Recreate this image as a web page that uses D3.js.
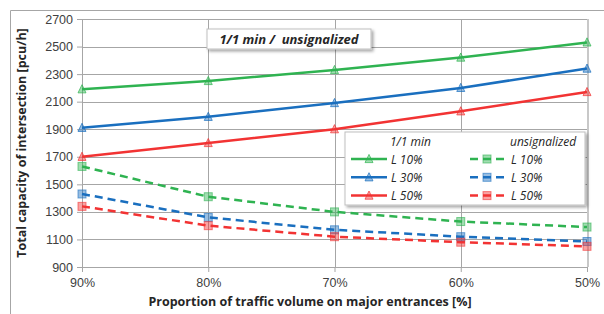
<!DOCTYPE html>
<html>
<head>
<meta charset="utf-8">
<script src="https://cdn.jsdelivr.net/npm/d3@7"></script>
<style>
  body { margin: 0; background: #fff; }
  svg { display: block; font-family: "Open Sans", "Noto Sans", sans-serif; }
</style>
</head>
<body>
<div id="chart"></div>
<script>
// categories and values
const categories = ["90%", "80%", "70%", "60%", "50%"];
const yTicks = [900, 1100, 1300, 1500, 1700, 1900, 2100, 2300, 2500, 2700];

const sig10 = [2190, 2250, 2330, 2420, 2530];
const sig30 = [1910, 1990, 2090, 2200, 2340];
const sig50 = [1700, 1800, 1900, 2030, 2170];
const uns10 = [1630, 1410, 1300, 1230, 1190];
const uns30 = [1430, 1260, 1170, 1120, 1085];
const uns50 = [1340, 1200, 1120, 1080, 1050];

const seriesLabels = ["L 10%", "L 30%", "L 50%"];
const seriesColors = ["#2fb351", "#1a6fbf", "#f23333"];

const series = [
  { values: sig10, color: seriesColors[0], dashed: false },
  { values: sig30, color: seriesColors[1], dashed: false },
  { values: sig50, color: seriesColors[2], dashed: false },
  { values: uns10, color: seriesColors[0], dashed: true },
  { values: uns30, color: seriesColors[1], dashed: true },
  { values: uns50, color: seriesColors[2], dashed: true }
];

const width = 604, height = 314;
const margin = { top: 19, right: 17, bottom: 47, left: 82 };
const innerWidth = width - margin.left - margin.right;
const innerHeight = height - margin.top - margin.bottom;

const svg = d3.select("#chart").append("svg")
  .attr("width", width)
  .attr("height", height);

const defs = svg.append("defs");
const shadow = defs.append("filter").attr("id", "shadow")
  .attr("x", "-10%").attr("y", "-20%").attr("width", "130%").attr("height", "160%");
shadow.append("feDropShadow")
  .attr("dx", 2).attr("dy", 2).attr("stdDeviation", 1.5)
  .attr("flood-color", "#000").attr("flood-opacity", 0.35);

// outer chart border (only the left and top edges are inside the picture)
svg.append("path")
  .attr("d", `M10.5,${height}V10.5H${width}`)
  .attr("fill", "none").attr("stroke", "#a6a6a6");

const g = svg.append("g").attr("transform", `translate(${margin.left},${margin.top})`);

const x = d3.scalePoint().domain(categories).range([0, innerWidth]);
const y = d3.scaleLinear().domain([900, 2700]).range([innerHeight, 0]);

// horizontal grid
g.append("g").selectAll("line").data(yTicks).join("line")
  .attr("x1", 0).attr("x2", innerWidth)
  .attr("y1", d => Math.round(y(d)) + 0.5).attr("y2", d => Math.round(y(d)) + 0.5)
  .attr("stroke", "#a6a6a6").attr("stroke-width", 1);

// vertical grid
g.append("g").selectAll("line").data(categories).join("line")
  .attr("x1", d => Math.round(x(d)) + 0.5).attr("x2", d => Math.round(x(d)) + 0.5)
  .attr("y1", 0).attr("y2", innerHeight)
  .attr("stroke", "#a6a6a6").attr("stroke-width", 1);

// right border of plot area
g.append("line")
  .attr("x1", innerWidth + 1).attr("x2", innerWidth + 1)
  .attr("y1", 0).attr("y2", innerHeight)
  .attr("stroke", "#c8c8c8").attr("stroke-width", 2);

// axes
const yAxis = g.append("g")
  .call(d3.axisLeft(y).tickValues(yTicks).tickSize(5).tickPadding(4).tickFormat(d3.format("d")));
yAxis.select(".domain").attr("stroke", "#a6a6a6").attr("d", `M0.5,0V${innerHeight}`);
yAxis.selectAll(".tick line").attr("stroke", "#a6a6a6");
yAxis.selectAll("text").attr("fill", "#404040").style("font-size", "12.5px");

const xAxis = g.append("g").attr("transform", `translate(0,${innerHeight})`)
  .call(d3.axisBottom(x).tickSize(5).tickPadding(6));
xAxis.select(".domain").attr("stroke", "#a6a6a6").attr("d", `M0,0.5H${innerWidth}`);
xAxis.selectAll(".tick line").attr("stroke", "#a6a6a6");
xAxis.selectAll("text").attr("fill", "#404040").style("font-size", "12.5px");

// axis titles
svg.append("text")
  .attr("transform", `translate(26,${margin.top + innerHeight / 2}) rotate(-90)`)
  .attr("text-anchor", "middle")
  .style("font-size", "12.5px").style("font-weight", "bold").attr("fill", "#262626")
  .text("Total capacity of intersection [pcu/h]");

svg.append("text")
  .attr("x", 310).attr("y", 306)
  .attr("text-anchor", "middle")
  .style("font-size", "12.5px").style("font-weight", "bold").attr("fill", "#262626")
  .text("Proportion of traffic volume on major entrances [%]");

// lines
const line = d3.line().x((d, i) => x(categories[i])).y(d => y(d));

function drawMarker(sel, dashed, color, size) {
  if (dashed) {
    sel.append("rect")
      .attr("x", -size / 2).attr("y", -size / 2)
      .attr("width", size).attr("height", size)
      .attr("fill", color).attr("fill-opacity", 0.45)
      .attr("stroke", color).attr("stroke-opacity", 0.6).attr("stroke-width", 1);
  } else {
    const h = size * 0.9;
    sel.append("path")
      .attr("d", `M0,${-h / 2 - 1}L${size / 2},${h / 2}L${-size / 2},${h / 2}Z`)
      .attr("fill", color).attr("fill-opacity", 0.45)
      .attr("stroke", color).attr("stroke-opacity", 0.7).attr("stroke-width", 1);
  }
}

series.forEach(s => {
  g.append("path")
    .datum(s.values)
    .attr("fill", "none")
    .attr("stroke", s.color)
    .attr("stroke-width", 2.5)
    .attr("stroke-dasharray", s.dashed ? "8,5" : null)
    .attr("d", line);
});

series.forEach(s => {
  s.values.forEach((v, i) => {
    const m = g.append("g").attr("transform", `translate(${x(categories[i])},${y(v)})`);
    drawMarker(m, s.dashed, s.color, 8);
  });
});

// title box
const tb = svg.append("g").attr("transform", "translate(207,29)");
tb.append("rect")
  .attr("width", 164).attr("height", 20)
  .attr("fill", "#fff").attr("stroke", "#bfbfbf")
  .attr("filter", "url(#shadow)");
tb.append("text")
  .attr("x", 82).attr("y", 15)
  .attr("text-anchor", "middle")
  .style("white-space", "pre")
  .style("font-size", "13px").style("font-weight", "bold").style("font-style", "italic")
  .attr("fill", "#262626")
  .text("1/1 min /  unsignalized");

// legend
const lg = svg.append("g").attr("transform", "translate(345,132)");
lg.append("rect")
  .attr("width", 240).attr("height", 73)
  .attr("fill", "#fff").attr("stroke", "#bfbfbf")
  .attr("filter", "url(#shadow)");

const legendStyle = t => t.style("font-size", "12px").style("font-style", "italic").attr("fill", "#262626");

lg.append("text").attr("x", 45).attr("y", 14).text("1/1 min").call(legendStyle);
lg.append("text").attr("x", 165).attr("y", 14).text("unsignalized").call(legendStyle);

const legendCols = [
  { lineX: 6, markX: 24, textX: 46, dashed: false },
  { lineX: 125, markX: 142, textX: 166, dashed: true }
];
legendCols.forEach(c => {
  seriesLabels.forEach((lbl, i) => {
    const ry = 27 + i * 18.3;
    lg.append("line")
      .attr("x1", c.lineX).attr("x2", c.lineX + 36)
      .attr("y1", ry).attr("y2", ry)
      .attr("stroke", seriesColors[i]).attr("stroke-width", 2.5)
      .attr("stroke-dasharray", c.dashed ? "8,5" : null);
    const m = lg.append("g").attr("transform", `translate(${c.markX},${ry})`);
    drawMarker(m, c.dashed, seriesColors[i], 8);
    lg.append("text").attr("x", c.textX).attr("y", ry + 4.5).text(lbl).call(legendStyle);
  });
});
</script>
</body>
</html>
